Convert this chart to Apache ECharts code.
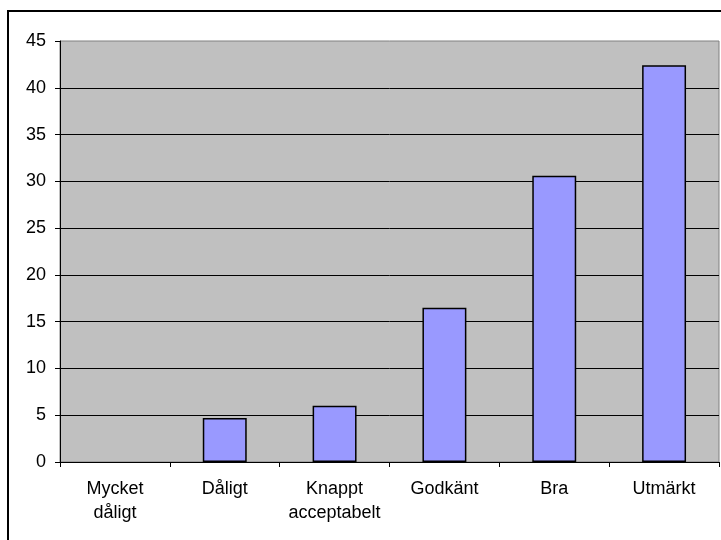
<!DOCTYPE html>
<html>
<head>
<meta charset="utf-8">
<script src="https://cdn.jsdelivr.net/npm/echarts@6/dist/echarts.min.js"></script>
<style>
html,body{margin:0;padding:0;background:#fff;}
#c{width:721px;height:540px;}
</style>
</head>
<body>
<div id="c"></div>
<script>
var categories = ["Mycket dåligt", "Dåligt", "Knappt acceptabelt", "Godkänt", "Bra", "Utmärkt"];
var values = [0, 4.7, 6.0, 16.5, 30.6, 42.4];
var yTicks = [0, 5, 10, 15, 20, 25, 30, 35, 40, 45];

var chart = echarts.init(document.getElementById('c'), null, {renderer: 'canvas'});
var font = '"Liberation Sans", Arial, sans-serif';
chart.setOption({
  animation: false,
  backgroundColor: '#ffffff',
  graphic: [{
    type: 'rect',
    shape: {x: 8, y: 11, width: 800, height: 600},
    style: {fill: 'none', stroke: '#000', lineWidth: 2},
    z: 100
  }],
  grid: {
    left: 60, right: 2, top: 41, bottom: 78,
    show: true, backgroundColor: '#c0c0c0', borderColor: '#808080', borderWidth: 1
  },
  xAxis: {
    type: 'category',
    data: categories,
    boundaryGap: true,
    axisLine: {lineStyle: {color: '#000', width: 1}},
    axisTick: {show: true, length: 5, lineStyle: {color: '#000'}},
    axisLabel: {
      color: '#000', fontSize: 18, fontFamily: font, margin: 15, lineHeight: 24,
      interval: 0,
      formatter: function (v) { return v.replace(' ', '\n'); }
    }
  },
  yAxis: {
    type: 'value',
    min: yTicks[0], max: yTicks[yTicks.length - 1], interval: yTicks[1] - yTicks[0],
    axisLine: {show: true, lineStyle: {color: '#000', width: 1}},
    axisTick: {show: true, length: 5, lineStyle: {color: '#000'}},
    axisLabel: {color: '#000', fontSize: 18, fontFamily: font, margin: 14},
    splitLine: {show: true, showMaxLine: false, lineStyle: {color: '#000', width: 1}}
  },
  series: [{
    type: 'bar',
    data: values.map(function (v) {
      return v === 0 ? {value: v, itemStyle: {borderWidth: 0}} : v;
    }),
    barWidth: '40%',
    itemStyle: {color: '#9999ff', borderColor: '#000', borderWidth: 1.5}
  }]
});
</script>
</body>
</html>
